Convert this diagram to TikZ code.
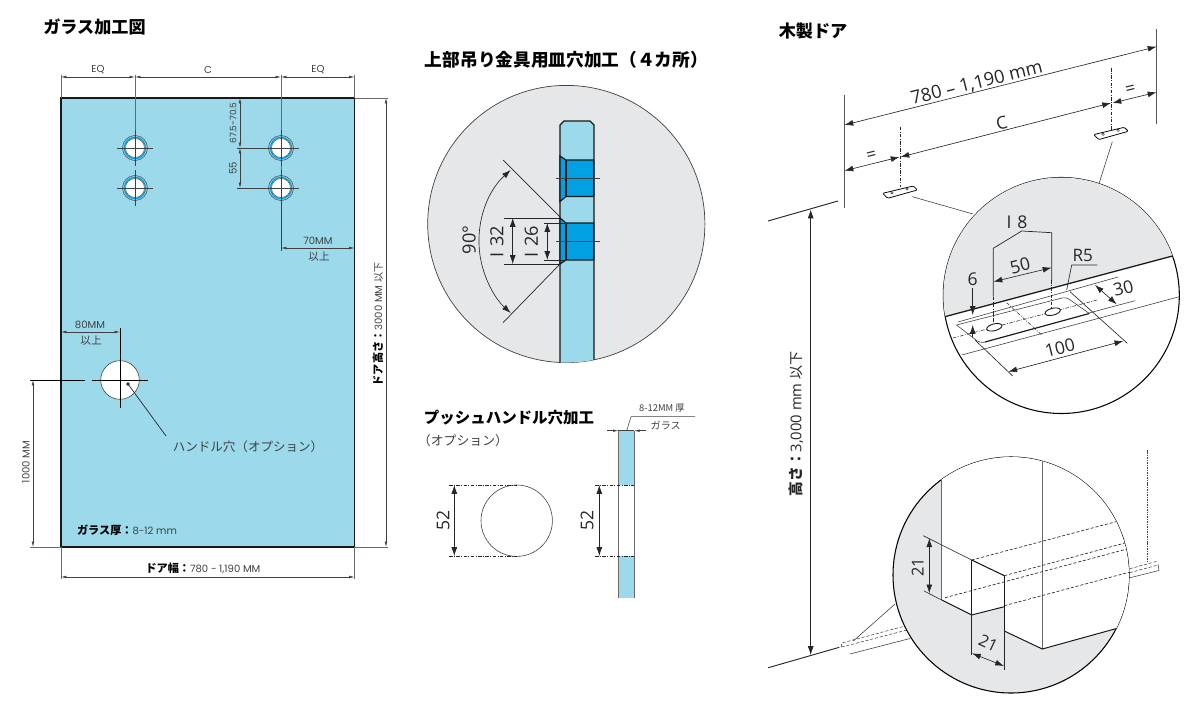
\documentclass[tikz,border=0pt]{standalone}
\usepackage{fontspec}
\usetikzlibrary{arrows.meta}
\newfontfamily\jpfont{Noto Sans CJK JP}
\newfontfamily\gothfont{Poppins}
\newfontfamily\humfont{Open Sans}
\definecolor{glassblue}{HTML}{9BD9EB}
\definecolor{sinkblue}{HTML}{00A0E3}
\definecolor{panelgray}{HTML}{E6E7E8}
\definecolor{inkgray}{HTML}{404040}
\definecolor{extgray}{HTML}{6A6A6A}
\newcommand\fsz[1]{\fontsize{#1}{#1}\selectfont}
\newcommand\holemark[3]{
		\draw[line width=.45pt,draw=inkgray] (#2,#3) circle (12.5);
		\draw[line width=1.1pt,draw=sinkblue,fill=white] (#2,#3) circle (10.6);
		\draw[line width=.35pt,draw=inkgray] (#2,#3) circle (9.5);
		\coordinate (#1) at (#2,#3);
		\draw[thinline] (#2-18,#3) -- (#2+18,#3);
		\draw[thinline] (#2,#3-18) -- (#2,#3+18);
	}
\newcommand\plateicon[2]{
		\draw[line width=.65pt,rounded corners=1pt,fill=white] (#1-17.3,#2+.6) -- (#1-12.3,#2+5.6) -- (#1+17.3,#2-2.7) -- (#1+13.3,#2-6.7) -- cycle;
		\draw[line width=.3pt] (#1-8,#2+.2) circle (1.3);
		\draw[line width=.3pt] (#1+7,#2-3.8) circle (1.3);
	}
\tikzset{
	thinline/.style={line width=.5pt,draw=inkgray},
	extline/.style={line width=.8pt,draw=extgray},
	smalldim/.style={line width=.45pt,draw=inkgray,<->,>={Latex[length=4.5pt,width=2.2pt]}},
	bigdim/.style={line width=.55pt,draw=black!85,<->,>={Latex[length=7.5pt,width=5pt]}},
	sheetline/.style={line width=1.15pt,draw=black!90},
	pointline/.style={line width=.45pt,draw=black!85,dash pattern=on 3pt off 1.2pt on .8pt off 1.2pt},
	hiddenline/.style={line width=.55pt,draw=black!85,dash pattern=on 2.6pt off 1.6pt},
	titletext/.style={font=\jpfont\bfseries\fsz{14.6},inner sep=0pt},
	gothtext/.style={font=\gothfont\fsz{8.6},text=inkgray,inner sep=0pt},
	jptext/.style={font=\jpfont\fsz{9},text=inkgray,inner sep=0pt},
	humtext/.style={font=\humfont\fsz{15},text=black!85,inner sep=0pt},
}
\begin{document}
\begin{tikzpicture}[x=0.03cm,y=-0.03cm]
		\useasboundingbox (0,0) rectangle (1200,705);

		% draw titles
		\node (glasstitle) at (94.5,27) [titletext] {ガラス加工図};
		\node (sinktitle) at (566.5,60) [titletext,font=\jpfont\bfseries\fsz{15.1}] {上部吊り金具用皿穴加工（４カ所）};
		\node (pushtitle) at (509,418) [titletext,font=\jpfont\bfseries\fsz{13.2}] {プッシュハンドル穴加工};
		\node (pushsub) at (463,441) [jptext,font=\jpfont\fsz{11}] {（オプション）};
		\node (woodtitle) at (813,31) [titletext] {木製ドア};

		% draw glass sheet
		\draw[sheetline,fill=glassblue] (61,98) rectangle (354.5,547);
		\draw[extline] (61,75) -- (61,98);
		\draw[extline] (354.5,75) -- (354.5,98);
		\draw[extline] (135,75) -- (135,130);
		\draw[extline] (281,75) -- (281,130);
		\draw[extline] (281,165) -- (281,171);
		\draw[extline] (355,98) -- (388,98);
		\draw[extline] (355,547) -- (388,547);
		\draw[extline] (30,547) -- (61,547);
		\draw[extline] (61,547) -- (61,579);
		\draw[extline] (354.5,547) -- (354.5,579);

		% draw hanger holes
		\holemark{holeA}{135}{148}
		\holemark{holeB}{135}{188}
		\holemark{holeC}{281}{148}
		\holemark{holeD}{281}{188}
		\draw[thinline] (281,206) -- (281,251);
		\draw[thinline] (237,148) -- (263,148);
		\draw[thinline] (237,188) -- (263,188);

		% draw handle hole
		\draw[line width=.5pt,draw=inkgray,fill=white] (120,380) circle (19.3);
		\coordinate (handlecentre) at (120,380);
		\draw[line width=.5pt,draw=black] (92,380) -- (148,380);
		\draw[line width=.5pt,draw=black] (120,328) -- (120,408);
		\draw[line width=.5pt,draw=black] (30,380) -- (85,380);
		\fill[black!85] (128,384) circle (1.9);
		\coordinate (handledot) at (128,384);
		\coordinate (handleend) at (166,436);
		\draw[line width=.6pt,draw=black!85] (handledot) -- (handleend);
		\node (handletext) at (248,447) [jptext,font=\jpfont\fsz{10.7}] {ハンドル穴（オプション）};

		% draw glass dimensions
		\foreach \xa/\xb in {61/135,135/281,281/354.5}
			\draw[smalldim] (\xa,77) -- (\xb,77);
		\draw[smalldim] (281,248) -- (354.5,248);
		\draw[smalldim] (240,98) -- (240,148);
		\draw[smalldim] (240,148) -- (240,188);
		\draw[smalldim] (386,98) -- (386,547);
		\draw[smalldim] (33,380) -- (33,547);
		\draw[smalldim] (61,332) -- (120,332);
		\draw[smalldim] (61,577) -- (354.5,577);
		\node (eqleft) at (98,69.5) [gothtext] {EQ};
		\node (cmid) at (208,69.5) [gothtext] {C};
		\node (eqright) at (318,69.5) [gothtext] {EQ};
		\node (edgeseventy) at (318,241) [gothtext] {70MM};
		\node (edgeabove) at (319,257) [jptext] {以上};
		\node (edgeeighty) at (90,324.5) [gothtext] {80MM};
		\node (edgeaboveb) at (91,341) [jptext] {以上};
		\node (offsettop) at (233,123) [gothtext,rotate=90,font=\gothfont\fsz{7.6}] {67.5-70.5};
		\node (pitch) at (233,168) [gothtext,rotate=90] {55};
		\node (heightlow) at (26,462) [gothtext,rotate=90] {1000 MM};
		\node (doorheight) at (378,324.5) [gothtext,rotate=90] {{\jpfont\bfseries\fsz{9.5}\color{black}ドア高さ：}3000 MM {\jpfont\fsz{8.6}以下}};
		\node (glassthick) at (127,530) [gothtext] {{\jpfont\bfseries\fsz{9.5}\color{black}ガラス厚：}8-12 mm};
		\node (doorwidth) at (203,568) [gothtext] {{\jpfont\bfseries\fsz{9.5}\color{black}ドア幅：}780 - 1,190 MM};

		% draw countersink detail
		\draw[line width=.6pt,draw=inkgray,fill=panelgray] (566.3,224) circle (138.6);
		\begin{scope}
			\clip (566.3,224) circle (138.6);
			\draw[sheetline,fill=glassblue] (560,370) -- (560,125) -- (564,121) -- (590,121) -- (594,125) -- (594,370) -- cycle;
			\foreach \ya/\yb/\yc/\yd in {156/160/196.5/201.5,218/223/260/264}
				\draw[line width=1pt,draw=black!90,fill=sinkblue] (560,\ya) -- (566,\yb) -- (593.7,\yb) -- (593.7,\yc) -- (566,\yc) -- (560,\yd) -- cycle;
			\foreach \ya/\yb in {156/160,218/223}
				\draw[line width=1pt,draw=black!90] (566,\yb) -- (566,\yb+36.5);
		\end{scope}
		\draw[thinline] (556,178.5) -- (600,178.5);
		\draw[thinline] (556,241.5) -- (600,241.5);
		\draw[line width=.6pt,draw=black!85] (503,160) -- (560,217);
		\draw[line width=.6pt,draw=black!85] (503,322.7) -- (561,263);
		\draw[line width=.6pt,draw=black!85] (504,218) -- (560,218);
		\draw[line width=.6pt,draw=black!85] (504,264) -- (560,264);
		\draw[line width=.6pt,draw=black!85] (544,223) -- (566,223);
		\draw[line width=.6pt,draw=black!85] (544,260) -- (566,260);
		\draw[bigdim] (512.7,218) -- (512.7,264);
		\draw[bigdim] (547.3,223) -- (547.3,260);
		\draw[bigdim] (510.7,170) arc[start angle=227.8,end angle=132.2,radius=96.5];
		\node (sinkouter) at (497,242) [humtext,rotate=90,font=\humfont\fsz{15.5}] {I\,\,32};
		\node (sinkinner) at (531.5,242) [humtext,rotate=90,font=\humfont\fsz{15.5}] {I\,\,26};
		\node (sinkangle) at (469,240) [humtext,rotate=90,font=\humfont\fsz{15.5}] {90°};

		% draw push handle views
		\draw[line width=.5pt,draw=inkgray] (516.7,520.7) circle (35.7);
		\draw[pointline] (449,485) -- (516.7,485);
		\draw[pointline] (449,556) -- (516.7,556);
		\draw[bigdim] (454.3,485) -- (454.3,556);
		\node (pushcircle) at (443,520.7) [humtext,rotate=90] {52};
		\fill[glassblue] (618.3,430.7) rectangle (634.3,485);
		\fill[glassblue] (618.3,556) rectangle (634.3,597.5);
		\draw[line width=.6pt,draw=extgray] (618.3,430.7) -- (618.3,597.5);
		\draw[line width=.6pt,draw=extgray] (634.3,430.7) -- (634.3,597.5);
		\draw[pointline] (595,485) -- (634.3,485);
		\draw[pointline] (595,556) -- (634.3,556);
		\draw[bigdim] (599.3,485) -- (599.3,556);
		\node (pushside) at (587,520.7) [humtext,rotate=90] {52};
		\draw[smalldim,<-] (618.3,430.7) -- (607,430.7);
		\draw[smalldim,<-] (634.3,430.7) -- (645.7,430.7);
		\draw[thinline] (618.3,430.7) -- (634.3,430.7);
		\draw[line width=.45pt,draw=inkgray] (626.7,430.7) -- (631,416.7) -- (695,416.7);
		\node (pushthick) at (662,407.7) [gothtext,font=\jpfont\fsz{8}] {8-12MM 厚};
		\node (pushglass) at (665.7,425.7) [jptext,font=\jpfont\fsz{8.6}] {ガラス};

		% draw door width dimensions
		\draw[line width=1pt,draw=extgray!80!black] (1156.7,29) -- (1156.7,123.7);
		\draw[line width=.8pt,draw=extgray!80!black] (844,95) -- (844,207.7);
		\draw[bigdim] (844.5,125) -- (1156.5,46.7);
		\draw[bigdim] (900.5,157) -- (1111,103);
		\draw[bigdim] (844.5,170.7) -- (899.5,157);
		\draw[bigdim] (1112.5,103) -- (1156.5,92.3);
		\draw[pointline] (900,126.7) -- (900,186.7);
		\draw[pointline] (1111.7,68) -- (1111.7,130);
		\node (doorrange) at (976.7,83.3) [humtext,rotate=14,font=\humfont\fsz{15.6}] {780 – 1,190 mm};
		\node (doorcentres) at (1001.7,122.7) [humtext,rotate=14] {C};
		\node (doorequalA) at (871.7,156) [humtext,rotate=14] {=};
		\node (doorequalB) at (1130.7,90) [humtext,rotate=14] {=};
		\plateicon{900}{192.7}
		\plateicon{1111}{134}

		% draw door edge and height
		\draw[line width=.8pt,draw=black!85] (768,221) -- (838,201);
		\draw[line width=.8pt,draw=black!85] (768.3,667.7) -- (839.3,647.3);
		\draw[bigdim] (810.7,209.5) -- (810.7,655);
		\node (woodheight) at (796,424) [humtext,rotate=90,font=\humfont\fsz{12.6}] {{\jpfont\bfseries 高さ：}3,000 mm {\jpfont\fsz{12}以下}};
		\draw[line width=.45pt,draw=inkgray,dash pattern=on 1.3pt off .8pt,double distance=.8pt] (1148.3,450) -- (1148.3,561);
		\draw[hiddenline,line width=.4pt] (841.7,647) -- (841.7,643) -- (907,625.5);
		\draw[hiddenline,line width=.4pt] (841.7,647) -- (907,630);
		\draw[line width=.5pt,draw=inkgray] (850,654) -- (910,638.5);
		\draw[hiddenline,line width=.4pt] (1125,570) -- (1158,561);
		\draw[hiddenline,line width=.4pt] (1125,574) -- (1158,565);
		\draw[line width=.5pt,draw=inkgray] (1129,578) -- (1159,570.5) -- (1158,564);

		% draw leaders to details
		\draw[line width=.5pt,draw=inkgray] (912.3,196.7) -- (973,214);
		\draw[line width=.5pt,draw=inkgray] (1112.3,141.7) -- (1099.3,182.7);
		\draw[line width=.5pt,draw=inkgray] (853.3,641) -- (895,604);

		% draw top plate detail
		\draw[line width=.9pt,fill=white] (1061.3,295.5) circle (118);
		\begin{scope}
			\clip (1061.3,295.5) circle (118);
			\fill[panelgray] (940,318) -- (1180,254) -- (1180,170) -- (940,170) -- cycle;
			\draw[line width=1.1pt,draw=black!90] (940,318) -- (1180,254);
			\draw[line width=.5pt,draw=inkgray] (961.7,355) -- (1180,296.5);
		\end{scope}
		\draw[line width=.5pt,draw=inkgray] (958,322) -- (1118,277);
		\draw[line width=.5pt,draw=inkgray] (1089,313) -- (1135,300.7);
		\draw[line width=.5pt,draw=inkgray,rounded corners=3pt] (956.5,325) -- (1066,297) -- (1089.3,313.5);
		\draw[line width=.5pt,draw=inkgray,rounded corners=3pt] (956.5,325) -- (980,343) -- (985,342);
		\draw[line width=1pt,draw=black!90] (985,342) -- (1089.3,313.5);
		\draw[pointline] (953,338) -- (1097,300);
		\draw[pointline] (1006.7,302.7) -- (1041.7,335);
		\draw[line width=.75pt,draw=black!90,fill=white,rotate around={14:(994.3,327.3)}] (994.3,327.3) ellipse [x radius=7.8,y radius=3.4];
		\draw[line width=.75pt,draw=black!90,fill=white,rotate around={14:(1052.7,311.7)}] (1052.7,311.7) ellipse [x radius=7.8,y radius=3.4];
		\draw[line width=.6pt,draw=black!85] (993.3,296.7) -- (993.3,248.3) -- (1021.7,231) -- (1051.7,232.7) -- (1051.7,280);
		\draw[pointline] (993.3,296.7) -- (993.3,323);
		\draw[pointline] (1051.7,280) -- (1051.7,307);
		\draw[bigdim] (993.5,281.7) -- (1051.5,267.7);
		\draw[line width=.55pt,draw=black!85] (1066.7,290) -- (1071.7,265) -- (1097.3,265);
		\draw[bigdim] (1095,285) -- (1116.7,304.3);
		\draw[bigdim] (1008.3,371.7) -- (1123.3,341);
		\draw[line width=.55pt,draw=black!85] (975,340) -- (1012.7,376);
		\draw[line width=.55pt,draw=black!85] (1070,291.7) -- (1127.3,343.3);
		\draw[bigdim,<-] (972.7,315) -- (972.7,288);
		\draw[bigdim,<-] (972.7,325) -- (972.7,336.7);
		\node (plateslot) at (1017,222) [humtext] {I\,\,8};
		\node (platepitch) at (1020,265.7) [humtext,rotate=14] {50};
		\node (plateradius) at (1082.7,255.7) [humtext,font=\humfont\fsz{14.6}] {R5};
		\node (platewide) at (1123.3,288.3) [humtext,rotate=14] {30};
		\node (platelong) at (1060,347.7) [humtext,rotate=14] {100};
		\node (plateinset) at (972.7,279.3) [humtext] {6};

		% draw bottom notch detail
		\draw[line width=.9pt,fill=panelgray] (1011,575) circle (118);
		\begin{scope}
			\clip (1011,575) circle (118);
			\fill[white] (941.7,440) -- (941.7,600) -- (971.7,615) -- (1004.3,606.7) -- (1004.3,631) -- (1042.3,649) -- (1115,629) -- (1140,622) -- (1140,440) -- cycle;
			\draw[line width=.9pt,draw=extgray] (941.7,440) -- (941.7,600);
			\draw[line width=.6pt,draw=extgray] (1042.3,440) -- (1042.3,649);
			\draw[line width=.85pt,draw=black!90] (941.7,600) -- (971.7,615) -- (1004.3,606.7);
			\draw[line width=.85pt,draw=black!90] (1004.3,631) -- (1042.3,649) -- (1140,622);
			\draw[hiddenline] (971.7,560) -- (1116,521.7);
			\draw[hiddenline] (1004.3,575.7) -- (1125,543);
			\draw[hiddenline] (945,597.7) -- (1127,549);
			\draw[hiddenline] (1004.3,605.7) -- (1130,572);
		\end{scope}
		\draw[line width=.9pt,draw=black!90] (971.7,560) -- (1004.3,575.7);
		\draw[line width=.7pt,draw=black!90] (971.7,560) -- (971.7,615);
		\draw[line width=.7pt,draw=black!90] (1004.3,575.7) -- (1004.3,631);
		\draw[line width=.5pt,draw=black!85] (923.3,535.7) -- (971.7,560);
		\draw[line width=.5pt,draw=black!85] (924,591) -- (941.7,600);
		\draw[line width=.5pt,draw=black!85] (971.7,615) -- (971.7,655);
		\draw[line width=.5pt,draw=black!85] (1004.3,631) -- (1004.3,670);
		\draw[bigdim] (929.3,538.3) -- (929.3,593.3);
		\draw[bigdim] (972,653.3) -- (1004,666);
		\node (notchhigh) at (917.7,567) [humtext,rotate=90,font=\humfont\fsz{14}] {21};
		\node (notchdeep) at (988.3,643.3) [humtext,rotate=-25,font=\humfont\fsz{14}] {21};
	\end{tikzpicture}
\end{document}
